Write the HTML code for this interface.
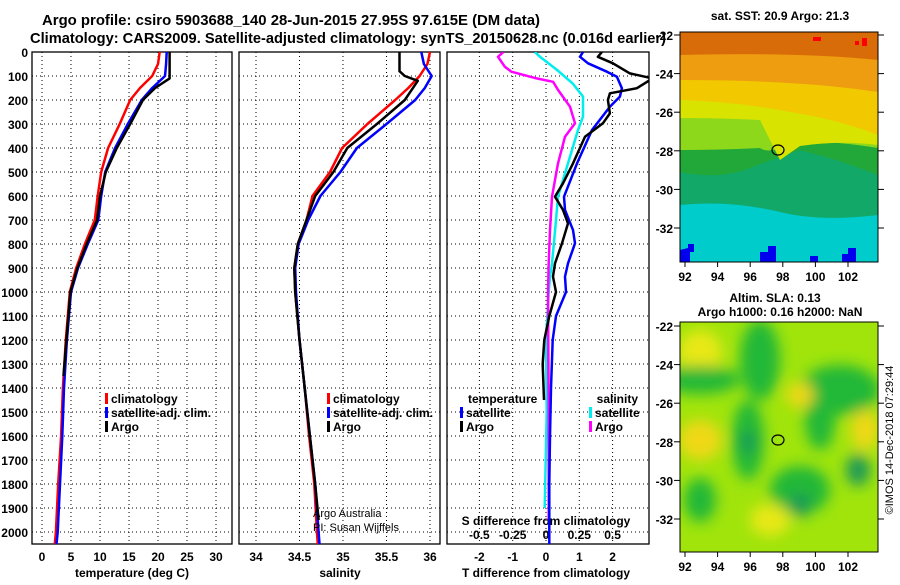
<!DOCTYPE html>
<html><head><meta charset="utf-8">
<style>
body{margin:0;background:#fff;}
svg text{font-family:"Liberation Sans",sans-serif;font-weight:bold;fill:#000;}
</style></head>
<body>
<svg id="fig" width="900" height="580" viewBox="0 0 900 580" xmlns="http://www.w3.org/2000/svg">
<defs><filter id="blur" x="-20%" y="-20%" width="140%" height="140%"><feGaussianBlur stdDeviation="7"/></filter>
<clipPath id="clipMap2"><rect x="680" y="322" width="198" height="230"/></clipPath>
<clipPath id="clipP3"><rect x="447" y="52" width="202" height="492"/></clipPath></defs>
<text x="42" y="25" font-size="15" textLength="498" lengthAdjust="spacingAndGlyphs">Argo profile: csiro 5903688_140 28-Jun-2015 27.95S 97.615E (DM data)</text>
<text x="30" y="43" font-size="15" textLength="636" lengthAdjust="spacingAndGlyphs">Climatology: CARS2009. Satellite-adjusted climatology: synTS_20150628.nc (0.016d earlier)</text>
<g id="g1"></g>
<g id="g2"></g>
<g id="g3"></g>

<!-- SST map -->
<g>
<text x="780" y="20" font-size="12" text-anchor="middle">sat. SST: 20.9 Argo: 21.3</text>
<rect x="680" y="32" width="198" height="230" fill="#00cccc"/>
<path d="M680 32H878V215Q820 222 780 212Q730 200 680 205Z" fill="#12a868"/>
<path d="M680 32H878V175Q840 160 800 150Q770 160 750 168Q720 180 680 172Z" fill="#22a838"/>
<path d="M680 32H878V148Q830 140 790 142Q770 155 760 148Q720 150 680 150Z" fill="#8ed81c"/>
<path d="M680 32H878V145Q840 140 800 146L780 160Q770 140 760 120Q720 118 680 118Z" fill="#d8e400"/>
<path d="M680 32H878V135Q840 120 790 112Q740 102 680 100Z" fill="#f2c800"/>
<path d="M680 32H878V92Q800 80 680 80Z" fill="#ee9c10"/>
<path d="M680 32H878V60Q800 52 680 55Z" fill="#d86c08"/>
<rect x="813" y="37" width="8" height="4" fill="#f00"/><rect x="862" y="38" width="5" height="8" fill="#f00"/><rect x="855" y="41" width="4" height="4" fill="#f00"/>
<path d="M680 262V250L688 248V244H694V252H690V262Z M760 262V252H768V246H776V262Z M842 262V254H848V248H856V262Z M810 262V256H818V262Z" fill="#0000ee"/>
<rect x="680" y="32" width="198" height="230" fill="none" stroke="#000"/>
<ellipse cx="778" cy="150" rx="6" ry="5" fill="none" stroke="#000" stroke-width="1.2"/>
</g>
<!-- SLA map -->
<g>
<text x="775" y="302" font-size="12" text-anchor="middle">Altim. SLA: 0.13</text>
<text x="780" y="316" font-size="12" text-anchor="middle">Argo h1000: 0.16 h2000: NaN</text>
<rect x="680" y="322" width="198" height="230" fill="#a0e40c"/>
<g clip-path="url(#clipMap2)" filter="url(#blur)">
<ellipse cx="700" cy="352" rx="22" ry="22" fill="#e8e818"/>
<ellipse cx="700" cy="440" rx="22" ry="20" fill="#f0d818"/>
<ellipse cx="700" cy="380" rx="40" ry="14" fill="#22b838"/>
<ellipse cx="760" cy="360" rx="20" ry="40" fill="#22b838"/>
<ellipse cx="840" cy="390" rx="40" ry="25" fill="#22b838"/>
<ellipse cx="748" cy="440" rx="16" ry="40" fill="#22b838"/>
<ellipse cx="748" cy="442" rx="8" ry="10" fill="#1a9858"/>
<ellipse cx="800" cy="490" rx="30" ry="24" fill="#22b838"/>
<ellipse cx="800" cy="505" rx="10" ry="12" fill="#1a9858"/>
<ellipse cx="820" cy="420" rx="15" ry="30" fill="#22b838"/>
<ellipse cx="858" cy="470" rx="12" ry="16" fill="#1a9858"/>
<ellipse cx="700" cy="500" rx="16" ry="22" fill="#22b838"/>
<ellipse cx="800" cy="395" rx="14" ry="12" fill="#f0d818"/>
<ellipse cx="865" cy="430" rx="14" ry="20" fill="#f0d818"/>
<ellipse cx="770" cy="520" rx="20" ry="16" fill="#e8e818"/>
</g>
<rect x="680" y="322" width="198" height="230" fill="none" stroke="#000"/>
<ellipse cx="778" cy="440" rx="6" ry="5" fill="none" stroke="#000" stroke-width="1.2"/>
</g>
<text transform="translate(893,440) rotate(-90)" font-size="11" text-anchor="middle" style="font-weight:normal">©IMOS 14-Dec-2018 07:29:44</text>
</svg>
<script>
// ---- data ----
const depthTicks=[0,100,200,300,400,500,600,700,800,900,1000,1100,1200,1300,1400,1500,1600,1700,1800,1900,2000];
const tTicks=[0,5,10,15,20,25,30];
const sTicks=[34,34.5,35,35.5,36];
const dTicks=[-2,-1,0,1,2];
const sdTicks=[-0.5,-0.25,0,0.25,0.5];
const latTicks=[-22,-24,-26,-28,-30,-32];
const lonTicks=[92,94,96,98,100,102];
const tempClimDepth=[0,50,100,150,200,300,400,500,600,700,800,900,1000,1200,1400,1600,1800,2000,2050];
const tempClim=[20.3,20,19,16.9,15.2,13.4,11.4,10.2,9.6,9.1,7.4,5.9,4.8,4.1,3.6,3.3,2.8,2.4,2.2];
const tempSat=[21.5,21.4,21.2,19,17.2,14.8,12.6,10.9,10.2,9.7,7.9,6.2,5.0,4.3,3.8,3.5,3.1,2.7,2.5];
const tempArgoDepth=[0,50,110,150,200,300,400,500,600,700,800,900,1000,1200,1350];
const tempArgo=[22,22,22,19.5,17.4,15.2,12.9,11,10,9.5,7.7,6.1,4.9,4.2,3.7];
const salClimDepth=[0,50,100,150,200,300,400,500,600,700,800,900,1000,1200,1400,1600,1800,2000,2050];
const salClim=[36.0,35.97,35.88,35.75,35.6,35.28,34.99,34.85,34.65,34.58,34.48,34.44,34.45,34.5,34.56,34.61,34.67,34.7,34.71];
const salSat=[35.9,35.93,36.02,35.94,35.83,35.5,35.16,34.97,34.74,34.6,34.49,34.45,34.46,34.5,34.56,34.62,34.68,34.72,34.73];
const salArgoDepth=[0,80,100,120,200,300,400,500,600,700,800,900,1000,1200,1400,1600,1800,1950];
const salArgo=[35.65,35.65,35.71,35.86,35.71,35.39,35.05,34.89,34.68,34.58,34.48,34.44,34.45,34.5,34.56,34.62,34.68,34.72];
const dTArgoDepth=[0,20,47,89,110,151,172,200,256,297,353,464,547,603,658,714,797,881,936,1000,1100,1200,1300,1450];
const dTArgo=[1.68,1.56,2.01,2.52,3.2,2.73,1.92,1.86,1.92,1.71,1.17,0.81,0.51,0.27,0.51,0.66,0.48,0.27,0.21,0.3,0.1,-0.05,-0.1,-0.06];
const dTSatDepth=[0,20,47,82,103,151,186,228,325,464,603,658,742,797,881,936,1000,1050,1100,1200,1400,1600,1800,2050];
const dTSat=[1.11,1.02,1.26,1.83,2.13,2.28,2.22,1.92,1.38,0.93,0.54,0.57,0.81,0.87,0.66,0.57,0.6,0.45,0.3,0.2,0.15,0.12,0.1,0.1];
const dSSatDepth=[0,20,75,131,186,269,325,464,603,742,881,936,1000,1200,1500,1900];
const dSSat=[-0.083,-0.045,0.083,0.2,0.278,0.278,0.24,0.165,0.09,0.068,0.045,0.03,0.02,0.0,0.005,-0.01];
const dSArgoDepth=[0,20,61,82,110,124,158,228,297,353,464,603,742,881,1000,1500,1950];
const dSArgo=[-0.32,-0.36,-0.31,-0.26,-0.07,0.053,0.09,0.18,0.218,0.143,0.09,0.045,0.03,0.02,0.015,0.02,0.02];

// ---- axes ----
const NS='http://www.w3.org/2000/svg';
const yD=d=>52+d*0.24;
const xT=t=>42+t*5.8;
const xS=s=>256+(s-34)*87;
const xD=d=>546+d*33.3;
const xSD=s=>546+s*133.2;
const P=[{x0:32,x1:232},{x0:239,x1:440},{x0:447,x1:649}];
const TOP=52,BOT=544;
function mk(parent,tag,attrs){const e=document.createElementNS(NS,tag);for(const k in attrs)e.setAttribute(k,attrs[k]);parent.appendChild(e);return e;}
function txt(parent,x,y,s,size,anchor){const e=mk(parent,'text',{x:x,y:y,'font-size':size,'text-anchor':anchor||'middle'});e.textContent=s;return e;}
function frame(g,p,xs,xf){
  depthTicks.forEach(d=>{if(d>0){mk(g,'line',{x1:p.x0,x2:p.x1,y1:yD(d),y2:yD(d),stroke:'#000','stroke-dasharray':'1,3','stroke-width':1});}});
  xs.forEach(v=>{mk(g,'line',{x1:xf(v),x2:xf(v),y1:TOP,y2:BOT,stroke:'#000','stroke-dasharray':'1,3','stroke-width':1});});
  mk(g,'rect',{x:p.x0,y:TOP,width:p.x1-p.x0,height:BOT-TOP,fill:'none',stroke:'#000','stroke-width':1.3});
}
function line(g,depths,vals,xf,color,name,w){
  const pts=depths.map((d,i)=>xf(vals[i]).toFixed(1)+','+yD(d).toFixed(1)).join(' ');
  const e=mk(g,'polyline',{points:pts,fill:'none',stroke:color,'stroke-width':w||2.5,'stroke-linejoin':'round'});
  
  
  return e;
}
function legendEntry(g,x,y,color,label,name){
  mk(g,'rect',{x:x,y:y-10,width:3,height:11,fill:color});
  const t=txt(g,x+6,y,label,12,'start');
  
  
}
const g1=document.getElementById('g1'),g2=document.getElementById('g2'),g3=document.getElementById('g3');
// panel 1
frame(g1,P[0],tTicks,xT);
depthTicks.forEach(d=>{const t=txt(g1,28,yD(d)+5,String(d),12,'end');});
tTicks.forEach(v=>{const t=txt(g1,xT(v),561,String(v),12);});
let at=txt(g1,132,577,'temperature (deg C)',12);
line(g1,tempClimDepth,tempClim,xT,'#f00','temperature-climatology-line');
line(g1,tempClimDepth,tempSat,xT,'#00f','temperature-satellite-line');
line(g1,tempArgoDepth,tempArgo,xT,'#000','temperature-argo-line');
legendEntry(g1,105,403,'#f00','climatology','legend-climatology');
legendEntry(g1,105,417,'#00f','satellite-adj. clim.','legend-satellite');
legendEntry(g1,105,431,'#000','Argo','legend-argo');
// panel 2
frame(g2,P[1],sTicks,xS);
sTicks.forEach(v=>{const t=txt(g2,xS(v),561,String(v),12);});
at=txt(g2,340,577,'salinity',12);
line(g2,salClimDepth,salClim,xS,'#f00','salinity-climatology-line');
line(g2,salClimDepth,salSat,xS,'#00f','salinity-satellite-line');
line(g2,salArgoDepth,salArgo,xS,'#000','salinity-argo-line');
legendEntry(g2,327,403,'#f00','climatology','legend-climatology');
legendEntry(g2,327,417,'#00f','satellite-adj. clim.','legend-satellite');
legendEntry(g2,327,431,'#000','Argo','legend-argo');
let c=txt(g2,313,517,'Argo Australia',11,'start');c.style.fontWeight='normal';
c=txt(g2,313,531,'PI: Susan Wijffels',11,'start');c.style.fontWeight='normal';
// panel 3
frame(g3,P[2],dTicks,xD);
dTicks.forEach(v=>{const t=txt(g3,xD(v),561,String(v),12);});
sdTicks.forEach(v=>{const t=txt(g3,xSD(v),539,String(v),12);});
at=txt(g3,546,577,'T difference from climatology',12);
at=txt(g3,546,525,'S difference from climatology',12);
const cg=mk(g3,'g',{'clip-path':'url(#clipP3)'});
line(cg,dSSatDepth,dSSat,xSD,'#00eeee','s-diff-satellite-line');
line(cg,dSArgoDepth,dSArgo,xSD,'#ff00ff','s-diff-argo-line');
line(cg,dTSatDepth,dTSat,xD,'#00f','t-diff-satellite-line');
line(cg,dTArgoDepth,dTArgo,xD,'#000','t-diff-argo-line');
txt(g3,468,403,'temperature',12,'start');
legendEntry(g3,460,417,'#00f','satellite','legend-t-satellite');
legendEntry(g3,460,431,'#000','Argo','legend-t-argo');
txt(g3,638,403,'salinity',12,'end');
legendEntry(g3,589,417,'#00eeee','satellite','legend-s-satellite');
legendEntry(g3,589,431,'#ff00ff','Argo','legend-s-argo');
// map axes
const fig=document.getElementById('fig');
function mapAxes(y0,latY0){
  latTicks.forEach((v,i)=>{const y=latY0+i*38.6;mk(fig,'line',{x1:674,x2:680,y1:y,y2:y,stroke:'#000'});mk(fig,'line',{x1:878,x2:884,y1:y,y2:y,stroke:'#000'});
    const t=txt(fig,673,y+5,String(v),12,'end');});
  lonTicks.forEach((v,i)=>{const x=685+(v-92)*16.3;mk(fig,'line',{x1:x,x2:x,y1:y0,y2:y0+5,stroke:'#000'});
    const t=txt(fig,x,y0+19,String(v),12);});
}
mapAxes(262,35);
mapAxes(552,326);
</script>
</body></html>
